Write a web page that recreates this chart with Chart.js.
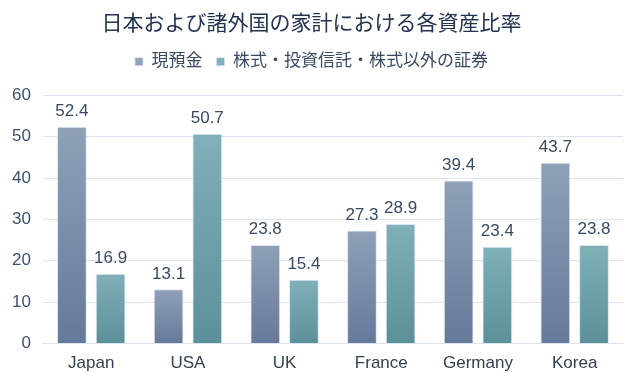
<!DOCTYPE html>
<html><head><meta charset="utf-8">
<script src="https://cdn.jsdelivr.net/npm/chart.js@4"></script>
<style>html,body{margin:0;padding:0;background:#fff;}#wrap{width:640px;height:382px;}</style>
</head><body><div id="wrap"><canvas id="c" width="640" height="382"></canvas></div>
<script>
const categories = ["Japan", "USA", "UK", "France", "Germany", "Korea"];
const seriesNames = ["現預金", "株式・投資信託・株式以外の証券"];
const cashDeposits = [52.4, 13.1, 23.8, 27.3, 39.4, 43.7];
const securities = [16.9, 50.7, 15.4, 28.9, 23.4, 23.8];
const titleText = "日本および諸外国の家計における各資産比率";

const FONT = "'Liberation Sans', 'Noto Sans CJK JP', sans-serif";
const colorsTop = ["#8fa0b8", "#80b0b8"];
const colorsBot = ["#67799a", "#5c9099"];

function grad(ctx, di) {
  const chart = ctx.chart;
  const ys = chart.scales.y;
  if (!ys || ctx.dataIndex === undefined) return colorsTop[di];
  const v = ctx.raw;
  const top = ys.getPixelForValue(v), bot = ys.getPixelForValue(0);
  if (!isFinite(top) || !isFinite(bot) || top === bot) return colorsTop[di];
  const g = chart.ctx.createLinearGradient(0, top, 0, bot);
  g.addColorStop(0, colorsTop[di]);
  g.addColorStop(1, colorsBot[di]);
  return g;
}

const labelPlugin = {
  id: 'vlabels',
  afterDatasetsDraw(chart) {
    const c = chart.ctx;
    c.save();
    c.font = "17px " + FONT;
    c.fillStyle = "#3a4a62";
    c.textAlign = "center";
    c.textBaseline = "bottom";
    chart.data.datasets.forEach((ds, i) => {
      chart.getDatasetMeta(i).data.forEach((bar, j) => {
        c.fillText(ds.data[j].toFixed(1), bar.x, bar.y - 7);
      });
    });
    c.restore();
  }
};

const legendMargin = {
  id: 'legendMargin',
  beforeInit(chart) {
    const lg = chart.legend;
    if (!lg) return;
    const f = lg.fit;
    lg.fit = function () { f.bind(lg)(); this.height += 15; };
  }
};

new Chart(document.getElementById('c'), {
  type: 'bar',
  data: {
    labels: categories,
    datasets: [
      { label: seriesNames[0], data: cashDeposits, backgroundColor: (ctx) => grad(ctx, 0), borderColor: "rgba(215,225,238,0.9)", borderWidth: 1 },
      { label: seriesNames[1], data: securities, backgroundColor: (ctx) => grad(ctx, 1), borderColor: "rgba(215,225,238,0.9)", borderWidth: 1 }
    ]
  },
  options: {
    responsive: false,
    animation: false,
    devicePixelRatio: 1,
    layout: { padding: { left: 0, right: 17, top: 0, bottom: 6 } },
    datasets: { bar: { categoryPercentage: 0.8, barPercentage: 0.77 } },
    plugins: {
      title: { display: true, text: titleText, color: "#22324f", font: { family: FONT, size: 21, weight: 'normal' }, padding: { top: 12, bottom: 2 } },
      legend: { display: true, labels: { color: "#3a4a62", boxWidth: 8, boxHeight: 8, font: { family: FONT, size: 17 }, padding: 14 } },
      tooltip: { enabled: false }
    },
    scales: {
      x: { grid: { display: false }, border: { display: true, color: "#dde4ee" }, ticks: { color: "#333f50", font: { family: FONT, size: 17 }, padding: 2 } },
      y: { min: 0, max: 60, ticks: { stepSize: 10, color: "#3b5070", font: { family: FONT, size: 17 }, padding: 12 }, grid: { color: "#dde4ee", drawTicks: false }, border: { display: false } }
    }
  },
  plugins: [labelPlugin, legendMargin]
});
</script></body></html>
